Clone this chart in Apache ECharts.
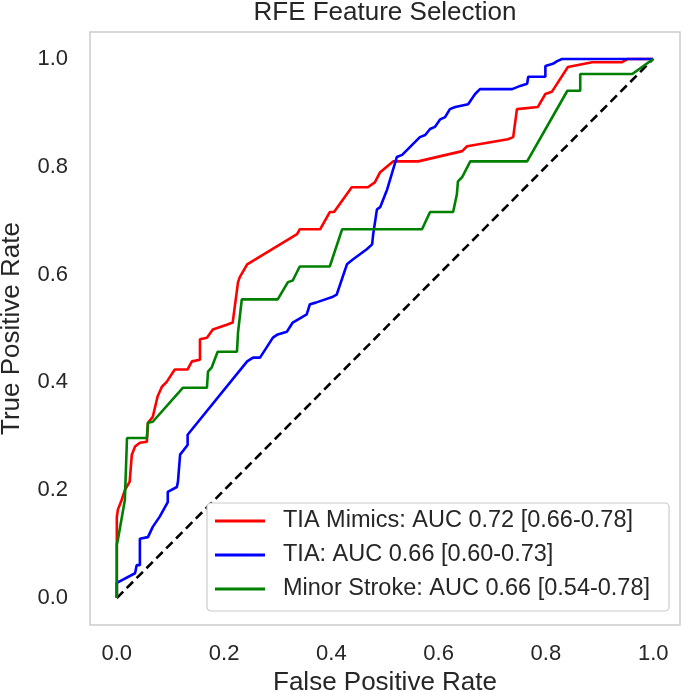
<!DOCTYPE html>
<html>
<head>
<meta charset="utf-8">
<script src="https://cdn.jsdelivr.net/npm/echarts@6/dist/echarts.min.js"></script>
<style>html,body{margin:0;padding:0;background:#fff}#c{width:685px;height:693px}</style>
</head>
<body>
<div id="c"></div>
<script>
var titleText = 'RFE Feature Selection';
var xName = 'False Positive Rate';
var yName = 'True Positive Rate';
var tickValues = [0, 0.2, 0.4, 0.6, 0.8, 1.0];
var seriesNames = ['TIA Mimics: AUC 0.72 [0.66-0.78]', 'TIA: AUC 0.66 [0.60-0.73]', 'Minor Stroke: AUC 0.66 [0.54-0.78]'];

var mimicsFpr = [0, 0, 0.002, 0.009, 0.015, 0.024, 0.028, 0.034, 0.043, 0.056, 0.058, 0.067, 0.076, 0.084, 0.093, 0.108, 0.132, 0.14, 0.155, 0.155, 0.168, 0.179, 0.205, 0.216, 0.226, 0.229, 0.243, 0.336, 0.341, 0.379, 0.397, 0.405, 0.438, 0.468, 0.481, 0.491, 0.515, 0.562, 0.644, 0.653, 0.729, 0.739, 0.746, 0.785, 0.799, 0.811, 0.841, 0.886, 0.942, 0.953, 1];
var mimicsTpr = [0, 0.15, 0.164, 0.182, 0.2, 0.216, 0.266, 0.281, 0.288, 0.29, 0.325, 0.336, 0.374, 0.392, 0.401, 0.424, 0.424, 0.439, 0.442, 0.48, 0.483, 0.498, 0.507, 0.511, 0.586, 0.595, 0.619, 0.675, 0.684, 0.684, 0.716, 0.716, 0.762, 0.762, 0.771, 0.79, 0.81, 0.81, 0.829, 0.838, 0.851, 0.855, 0.907, 0.911, 0.935, 0.939, 0.985, 0.994, 0.994, 1.0, 1.0];

var tiaFpr = [0, 0, 0.034, 0.037, 0.043, 0.043, 0.058, 0.067, 0.08, 0.095, 0.095, 0.112, 0.114, 0.118, 0.132, 0.132, 0.243, 0.254, 0.267, 0.291, 0.3, 0.317, 0.328, 0.354, 0.36, 0.371, 0.403, 0.41, 0.429, 0.44, 0.466, 0.476, 0.478, 0.485, 0.491, 0.504, 0.522, 0.532, 0.565, 0.575, 0.584, 0.593, 0.603, 0.612, 0.621, 0.631, 0.655, 0.668, 0.677, 0.737, 0.752, 0.765, 0.767, 0.799, 0.799, 0.813, 0.821, 0.83, 1];
var tiaTpr = [0, 0.028, 0.046, 0.061, 0.061, 0.11, 0.113, 0.132, 0.151, 0.178, 0.197, 0.206, 0.216, 0.266, 0.284, 0.303, 0.439, 0.446, 0.446, 0.483, 0.489, 0.494, 0.511, 0.526, 0.545, 0.548, 0.559, 0.563, 0.619, 0.628, 0.647, 0.656, 0.675, 0.721, 0.725, 0.758, 0.818, 0.822, 0.855, 0.859, 0.87, 0.874, 0.888, 0.892, 0.907, 0.911, 0.916, 0.935, 0.944, 0.944, 0.95, 0.954, 0.967, 0.967, 0.987, 0.991, 0.996, 1.0, 1.0];

var strokeFpr = [0, 0, 0.002, 0.015, 0.019, 0.056, 0.058, 0.067, 0.123, 0.168, 0.17, 0.177, 0.188, 0.224, 0.226, 0.233, 0.3, 0.319, 0.328, 0.341, 0.397, 0.42, 0.569, 0.584, 0.627, 0.634, 0.636, 0.644, 0.659, 0.765, 0.84, 0.864, 0.864, 0.961, 1];
var strokeTpr = [0, 0.1, 0.108, 0.182, 0.297, 0.297, 0.325, 0.327, 0.39, 0.39, 0.42, 0.428, 0.457, 0.457, 0.493, 0.554, 0.554, 0.586, 0.589, 0.615, 0.615, 0.684, 0.684, 0.716, 0.716, 0.749, 0.773, 0.781, 0.81, 0.81, 0.941, 0.941, 0.972, 0.972, 1.0];

var chanceFpr = [0, 1];
var chanceTpr = [0, 1];

function zip(xs, ys) { return xs.map(function (x, i) { return [x, ys[i]]; }); }

var FONT = 'Liberation Sans, Arial, sans-serif';
var TXT = '#262626';

var chart = echarts.init(document.getElementById('c'), null, { renderer: 'canvas' });
chart.setOption({
  animation: false,
  backgroundColor: '#fff',
  title: {
    text: titleText, left: 385, textAlign: 'center', top: 0, padding: 0,
    textStyle: { fontFamily: FONT, fontSize: 26, fontWeight: 'normal', color: TXT }
  },
  grid: { left: 90, right: 5, top: 32, bottom: 68, show: true, borderColor: '#cccccc', borderWidth: 1.5, backgroundColor: '#fff', outerBoundsMode: 'none', containLabel: false },
  legend: {
    data: seriesNames, orient: 'vertical', left: 207, top: 503,
    icon: 'rect', itemWidth: 50, itemHeight: 3, itemGap: 8,
    padding: [5, 19, 9, 8],
    backgroundColor: '#fff', borderColor: '#cccccc', borderWidth: 1.2, borderRadius: 4,
    textStyle: { fontFamily: FONT, fontSize: 23.5, color: TXT, lineHeight: 26, padding: [0, 0, 0, 13] }
  },
  xAxis: {
    type: 'value', min: -0.05, max: 1.05,
    name: xName, nameLocation: 'middle', nameGap: 42,
    nameTextStyle: { fontFamily: FONT, fontSize: 26, color: TXT },
    axisLine: { show: false }, axisTick: { show: false }, splitLine: { show: false },
    axisLabel: { customValues: tickValues, formatter: function (v) { return v.toFixed(1); }, fontFamily: FONT, fontSize: 22, color: TXT, margin: 18 }
  },
  yAxis: {
    type: 'value', min: -0.05, max: 1.05,
    name: yName, nameLocation: 'middle', nameGap: 65,
    nameTextStyle: { fontFamily: FONT, fontSize: 26, color: TXT },
    axisLine: { show: false }, axisTick: { show: false }, splitLine: { show: false },
    axisLabel: { customValues: tickValues, formatter: function (v) { return v.toFixed(1); }, fontFamily: FONT, fontSize: 22, color: TXT, margin: 22 }
  },
  series: [
    { name: seriesNames[0], type: 'line', data: zip(mimicsFpr, mimicsTpr), symbol: 'none', lineStyle: { color: '#ff0000', width: 2.6 }, itemStyle: { color: '#ff0000' } },
    { name: seriesNames[1], type: 'line', data: zip(tiaFpr, tiaTpr), symbol: 'none', lineStyle: { color: '#0000ff', width: 2.6 }, itemStyle: { color: '#0000ff' } },
    { name: seriesNames[2], type: 'line', data: zip(strokeFpr, strokeTpr), symbol: 'none', lineStyle: { color: '#008000', width: 2.6 }, itemStyle: { color: '#008000' } },
    { name: 'chance', type: 'line', data: zip(chanceFpr, chanceTpr), symbol: 'none', lineStyle: { color: '#000000', width: 2.6, type: [9, 5] }, z: 1 }
  ]
});
</script>
</body>
</html>
